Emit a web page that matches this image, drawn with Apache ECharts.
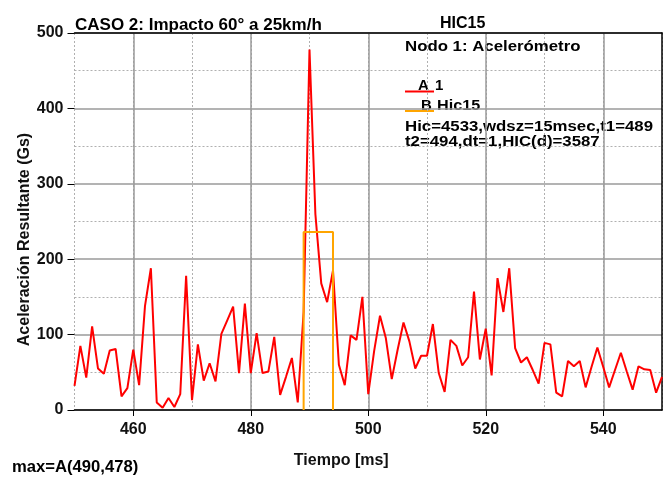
<!DOCTYPE html>
<html><head><meta charset="utf-8">
<script src="https://cdn.jsdelivr.net/npm/echarts@6/dist/echarts.min.js"></script>
<style>html,body{margin:0;padding:0;background:#fff}#c{width:670px;height:486px}</style>
</head><body><div id="c"></div>
<script>
// Time (ms)
const timeMs = [450,451,452,453,454,455,456,457,458,459,
460,461,462,463,464,465,466,467,468,469,
470,471,472,473,474,475,476,477,478,479,
480,481,482,483,484,485,486,487,488,489,
490,491,492,493,494,495,496,497,498,499,
500,501,502,503,504,505,506,507,508,509,
510,511,512,513,514,515,516,517,518,519,
520,521,522,523,524,525,526,527,528,529,
530,531,532,533,534,535,536,537,538,539,
540,541,542,543,544,545,546,547,548,549,550];
// Series A "1": resultant acceleration (Gs)
const accelA = [32,85,43,111,55,48,79,81,18,29,
80,33,138,188,10,3,16,4,21,178,
13,87,39,62,38,101,119,137,49,141,
49,102,49,51,97,20,44,69,10,130,
478,260,168,143,185,60,33,99,93,150,
21,78,125,95,41,80,116,91,55,72,
72,114,49,24,93,85,59,70,157,67,
108,46,175,130,188,82,63,70,53,35,
89,87,23,18,65,58,65,30,57,83,
57,30,53,76,51,27,58,54,53,23,44];
// Series B "Hic15": HIC window
const hicT = [489,489,494,494];
const hicV = [0,236,236,0];

const FONT = '"Liberation Sans", Arial, sans-serif';
const txt = (extra) => Object.assign({fontFamily: FONT, fontWeight: 'bold', color: '#111'}, extra);

const chart = echarts.init(document.getElementById('c'), null, {renderer: 'canvas'});
const gridLine = {color: '#9a9a9a', width: 1.5};
const dotLine = {color: '#b0b0b0', width: 1, type: [2, 2]};

chart.setOption({
  animation: false,
  backgroundColor: '#fff',
  grid: {left: 74.5, right: 8, top: 33, bottom: 76},
  xAxis: [
    {type: 'value', min: 450, max: 550, interval: 10,
     axisLine: {show: true, onZero: false, lineStyle: {color: '#000', width: 1.5}},
     axisTick: {show: false}, axisLabel: {show: false},
     splitLine: {show: true, lineStyle: dotLine},
     name: 'Tiempo [ms]', nameLocation: 'middle', nameGap: 43, nameMoveOverlap: false,
     nameTextStyle: txt({fontSize: 16, padding: [0, 54, 0, 0]})},
    {type: 'value', min: 450, max: 550, splitNumber: 5, position: 'bottom',
     axisLine: {show: false, onZero: false},
     axisTick: {show: true, length: 6, lineStyle: {color: '#000', width: 1}},
     axisLabel: txt({fontSize: 16, margin: 12, showMinLabel: false, showMaxLabel: false}),
     splitLine: {show: true, showMinLine: false, showMaxLine: false, lineStyle: gridLine}},
    {type: 'value', min: 450, max: 550, position: 'top',
     axisLine: {show: true, onZero: false, lineStyle: {color: '#000', width: 1.5}},
     axisTick: {show: false}, axisLabel: {show: false}, splitLine: {show: false}}
  ],
  yAxis: [
    {type: 'value', min: 0, max: 500, interval: 100,
     axisLine: {show: false},
     axisTick: {show: true, length: 7, lineStyle: {color: '#000', width: 1}},
     axisLabel: txt({fontSize: 16, margin: 11}),
     splitLine: {show: true, lineStyle: gridLine},
     minorTick: {show: false, splitNumber: 2},
     minorSplitLine: {show: true, lineStyle: dotLine},
     name: 'Aceleración Resultante (Gs)', nameLocation: 'middle', nameGap: 42, nameMoveOverlap: false,
     nameTextStyle: txt({fontSize: 16, padding: [0, 36, 0, 0]})},
    {type: 'value', min: 0, max: 500, position: 'right',
     axisLine: {show: true, onZero: false, lineStyle: {color: '#000', width: 1.5}},
     axisTick: {show: false}, axisLabel: {show: false}, splitLine: {show: false}}
  ],
  series: [
    {name: '1', type: 'line', xAxisIndex: 0, yAxisIndex: 0,
     data: timeMs.map((t, i) => [t, accelA[i]]),
     showSymbol: false, symbol: 'none', color: '#ff0000',
     lineStyle: {color: '#ff0000', width: 2}},
    {name: 'Hic15', type: 'line', xAxisIndex: 0, yAxisIndex: 0,
     data: hicT.map((t, i) => [t, hicV[i]]),
     showSymbol: false, symbol: 'none', color: '#ffa500',
     lineStyle: {color: '#ffa500', width: 2}}
  ],
  graphic: [
    {type: 'text', left: 75, top: 17, style: txt({text: 'CASO 2: Impacto 60° a 25km/h', fontSize: 17})},
    {type: 'text', left: 440, top: 16, style: txt({text: 'HIC15', fontSize: 16})},
    {type: 'text', left: 405, top: 39, scaleX: 1.12, style: txt({text: 'Nodo 1: Acelerómetro', fontSize: 15})},
    {type: 'text', left: 418, top: 78, style: txt({text: 'A', fontSize: 15})},
    {type: 'text', left: 435, top: 78, style: txt({text: '1', fontSize: 15})},
    {type: 'line', shape: {x1: 405, y1: 91.5, x2: 434, y2: 91.5}, style: {stroke: '#ff0000', lineWidth: 2}},
    {type: 'text', left: 421, top: 98, style: txt({text: 'B', fontSize: 15})},
    {type: 'text', left: 437, top: 98, scaleX: 1.08, style: txt({text: 'Hic15', fontSize: 15})},
    {type: 'line', shape: {x1: 405, y1: 111, x2: 434, y2: 111}, style: {stroke: '#ffa500', lineWidth: 2}},
    {type: 'text', left: 405, top: 119, scaleX: 1.12, style: txt({text: 'Hic=4533,wdsz=15msec,t1=489', fontSize: 15})},
    {type: 'text', left: 405, top: 134, scaleX: 1.12, style: txt({text: 't2=494,dt=1,HIC(d)=3587', fontSize: 15})},
    {type: 'text', left: 12, top: 460, scaleX: 1.04, style: txt({text: 'max=A(490,478)', fontSize: 16})}
  ]
});
</script></body></html>
